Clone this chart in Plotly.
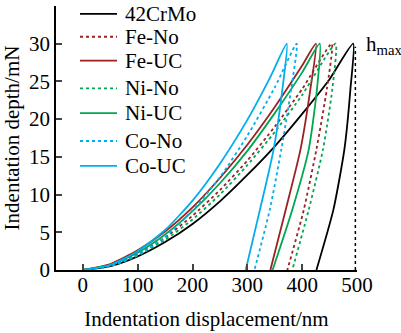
import plotly.graph_objects as go

# ---- data ----
series_names = ["42CrMo", "Fe-No", "Fe-UC", "Ni-No", "Ni-UC", "Co-No", "Co-UC"]
series_colors = ["#000000", "#9B2222", "#9B2222", "#00A651", "#00A651", "#00AEEF", "#00AEEF"]
series_dash = ["solid", "dot", "solid", "dot", "solid", "dot", "solid"]

# loading branches (displacement nm, load mN)
load_x_42CrMo = [0, 50, 100, 150, 200, 250, 300, 350, 400, 450, 493]
load_y_42CrMo = [0, 0.5, 1.8, 3.7, 6.1, 9.1, 12.6, 16.4, 20.7, 25.3, 30]
load_x_FeNo = [0, 50, 100, 150, 200, 250, 300, 350, 400, 454]
load_y_FeNo = [0, 0.63, 2.1, 4.3, 7.2, 10.6, 14.5, 19.0, 24.0, 30]
load_x_FeUC = [0, 50, 100, 150, 200, 250, 300, 350, 400, 425]
load_y_FeUC = [0, 0.79, 2.6, 5.1, 8.3, 12.2, 16.6, 21.6, 27.1, 30]
load_x_NiNo = [0, 50, 100, 150, 200, 250, 300, 350, 400, 461]
load_y_NiNo = [0, 0.55, 1.9, 4.0, 6.7, 10.0, 13.9, 18.3, 23.2, 30]
load_x_NiUC = [0, 50, 100, 150, 200, 250, 300, 350, 400, 432]
load_y_NiUC = [0, 0.69, 2.3, 4.7, 7.8, 11.5, 15.8, 20.8, 26.2, 30]
load_x_CoNo = [0, 50, 100, 150, 200, 250, 300, 350, 390]
load_y_CoNo = [0, 0.49, 2.0, 4.4, 7.9, 12.3, 17.8, 24.2, 30]
load_x_CoUC = [0, 50, 100, 150, 200, 250, 300, 340, 372]
load_y_CoUC = [0, 0.66, 2.5, 5.3, 9.2, 14.1, 19.9, 25.3, 30]

# unloading branches (from peak down to residual depth)
unload_y = [24, 16, 8, 0]
unload_x_42CrMo = [488, 477, 457, 426]
unload_x_FeNo = [445, 426, 403, 373]
unload_x_FeUC = [415, 397, 370, 342]
unload_x_NiNo = [455, 438, 412, 382]
unload_x_NiUC = [427, 412, 382, 346]
unload_x_CoNo = [380, 362, 341, 313]
unload_x_CoUC = [364, 348, 323, 297]

hmax_line_x = [497, 497]
hmax_line_y = [0, 29.6]

x_ticks = [0, 100, 200, 300, 400, 500]
y_ticks = [0, 5, 10, 15, 20, 25, 30, 35]

loads = [
    (load_x_42CrMo, load_y_42CrMo, unload_x_42CrMo),
    (load_x_FeNo, load_y_FeNo, unload_x_FeNo),
    (load_x_FeUC, load_y_FeUC, unload_x_FeUC),
    (load_x_NiNo, load_y_NiNo, unload_x_NiNo),
    (load_x_NiUC, load_y_NiUC, unload_x_NiUC),
    (load_x_CoNo, load_y_CoNo, unload_x_CoNo),
    (load_x_CoUC, load_y_CoUC, unload_x_CoUC),
]

FONT = "Liberation Serif, Times New Roman, serif"
W, H = 401, 333
ML, MR, MT, MB = 56, 44, 6, 61
PW, PH = W - ML - MR, H - MT - MB

fig = go.Figure()
for name, col, dash, (lx, ly, ux) in zip(series_names, series_colors, series_dash, loads):
    fig.add_trace(go.Scatter(
        x=lx + ux, y=ly + unload_y, mode="lines", name=name, showlegend=False,
        line=dict(color=col, width=1.8, dash=dash, shape="spline", smoothing=0.6),
    ))

fig.add_trace(go.Scatter(
    x=hmax_line_x, y=hmax_line_y, mode="lines", showlegend=False,
    line=dict(color="black", width=1.5, dash="dot"),
))

# manual legend (compact spacing like the reference)
legend_rows_px = [14, 37, 61, 89, 114, 142, 167]
def px_to_paper_x(px):
    return (px - ML) / PW
def px_to_paper_y(py):
    return (H - MB - py) / PH

for name, col, dash, py in zip(series_names, series_colors, series_dash, legend_rows_px):
    yy = px_to_paper_y(py)
    fig.add_shape(type="line", xref="paper", yref="paper",
                  x0=px_to_paper_x(80), x1=px_to_paper_x(117), y0=yy, y1=yy,
                  line=dict(color=col, width=1.8, dash=dash))
    fig.add_annotation(x=px_to_paper_x(123), y=yy, xref="paper", yref="paper",
                       text=name, showarrow=False, xanchor="left", yanchor="middle",
                       font=dict(family=FONT, size=21, color="black"))

fig.add_annotation(
    x=px_to_paper_x(364), y=px_to_paper_y(45), xref="paper", yref="paper",
    text="h<sub>max</sub>", showarrow=False,
    xanchor="left", yanchor="middle", font=dict(family=FONT, size=21, color="black"),
)

fig.update_layout(
    width=W, height=H,
    margin=dict(l=ML, r=MR, t=MT, b=MB),
    paper_bgcolor="white", plot_bgcolor="white",
    font=dict(family=FONT, size=21, color="black"),
    showlegend=False,
    xaxis=dict(
        range=[-49, 500], tickvals=x_ticks, ticks="inside", ticklen=6, tickwidth=1.5,
        showline=True, linecolor="black", linewidth=1.5, showgrid=False, zeroline=False,
        ticklabelstandoff=-5,
        title=dict(text="Indentation displacement/nm", font=dict(family=FONT, size=21), standoff=15),
        tickfont=dict(family=FONT, size=21),
    ),
    yaxis=dict(
        range=[0, 35], tickvals=y_ticks, ticks="inside", ticklen=6, tickwidth=1.5,
        showline=True, linecolor="black", linewidth=1.5, showgrid=False, zeroline=False,
        title=dict(text="Indentation depth/mN", font=dict(family=FONT, size=21), standoff=4),
        tickfont=dict(family=FONT, size=21),
    ),
)

fig.write_html("out.html", config={"displayModeBar": False},
               post_script="document.body.style.margin='0';")
